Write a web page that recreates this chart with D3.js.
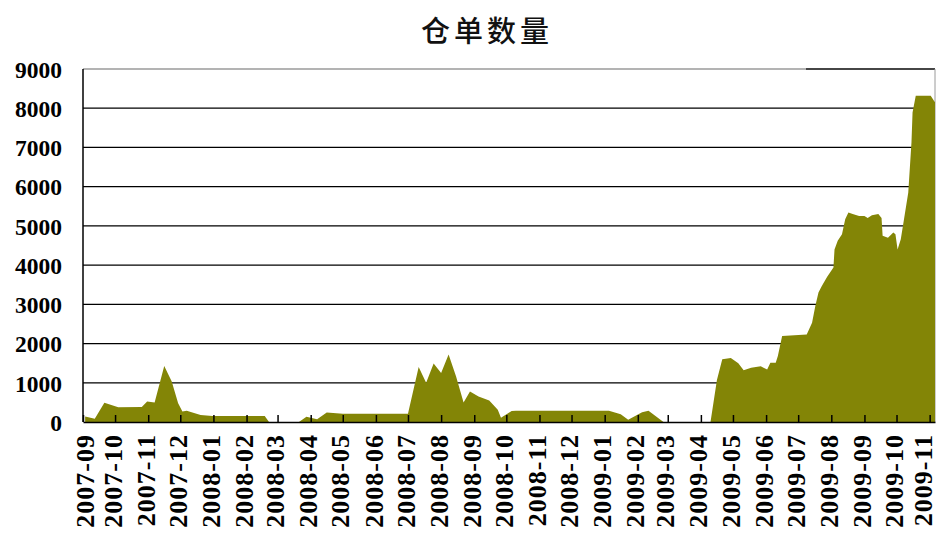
<!DOCTYPE html>
<html>
<head>
<meta charset="utf-8">
<script src="https://cdn.jsdelivr.net/npm/d3@7"></script>
<style>
  html, body { margin: 0; padding: 0; background: #fff; }
  svg { display: block; }
  .title { font-family: "Noto Sans CJK SC", sans-serif; font-weight: 500; }
  .tick text { font-family: "Liberation Serif", "Times New Roman", serif; font-weight: bold; fill: #000; }
</style>
</head>
<body>
<svg id="chart" width="937" height="534"></svg>
<script>
// Warrant (仓单) count, daily, Sep 2007 – Nov 2009
const dates = [
  "2007-09-03","2007-09-12","2007-09-21","2007-10-04","2007-10-26","2007-10-31",
  "2007-11-07","2007-11-16","2007-11-23","2007-11-29","2007-12-03","2007-12-07",
  "2007-12-20","2007-12-31","2008-02-18","2008-02-22","2008-03-21","2008-03-28",
  "2008-04-07","2008-04-16","2008-05-01","2008-07-01","2008-07-11","2008-07-18",
  "2008-07-25","2008-08-01","2008-08-08","2008-08-15","2008-08-22","2008-08-28",
  "2008-09-05","2008-09-15","2008-09-23","2008-09-26","2008-10-06","2008-10-10",
  "2009-01-05","2009-01-16","2009-01-23","2009-02-05","2009-02-11","2009-02-25",
  "2009-04-10","2009-04-16","2009-04-21","2009-04-29","2009-05-06","2009-05-11",
  "2009-05-18","2009-05-27","2009-06-02","2009-06-05","2009-06-10","2009-06-12",
  "2009-06-16","2009-07-09","2009-07-14","2009-07-17","2009-07-20","2009-07-23",
  "2009-07-28","2009-08-03","2009-08-04","2009-08-07","2009-08-11","2009-08-14",
  "2009-08-17","2009-08-21","2009-08-27","2009-09-01","2009-09-04","2009-09-08",
  "2009-09-14","2009-09-17","2009-09-18","2009-09-23","2009-09-28","2009-09-30",
  "2009-10-02","2009-10-05","2009-10-08","2009-10-12","2009-10-15","2009-10-16",
  "2009-10-19","2009-11-02","2009-11-05","2009-11-06"
];
const values = [
  140, 85, 490, 375, 380, 520,
  495, 1425, 1030, 480, 265, 285,
  180, 155, 155, 0, 0, 135,
  70, 240, 210, 210, 1400, 1000,
  1490, 1250, 1720, 1160, 500, 780,
  650, 550, 310, 110, 280, 290,
  290, 200, 60, 250, 285, 0,
  0, 1070, 1600, 1630, 1500, 1320,
  1380, 1420, 1340, 1510, 1510, 1680,
  2190, 2230, 2530, 2950, 3300, 3460,
  3700, 3940, 4400, 4620, 4790, 5170,
  5340, 5300, 5250, 5250, 5200, 5270,
  5300, 5200, 4750, 4700, 4830, 4790,
  4400, 4660, 5170, 5850, 7130, 7890,
  8320, 8320, 8190, 8150
];
const yTicks = [0, 1000, 2000, 3000, 4000, 5000, 6000, 7000, 8000, 9000];
const titleText = "仓单数量";
const axisStart = "2007-09-01";
const axisEnd = "2009-11-06";

const parse = d3.utcParse("%Y-%m-%d");
const series = dates.map((d, i) => ({ date: parse(d), value: values[i] }));

const margin = { left: 83, right: 2, top: 69, bottom: 112 };
const W = 937, H = 534;
const svg = d3.select("#chart");

const x = d3.scaleUtc()
  .domain([parse(axisStart), parse(axisEnd)])
  .range([margin.left, W - margin.right]);
const y = d3.scaleLinear()
  .domain([0, 9000])
  .range([H - margin.bottom, margin.top]);

// title
svg.append("text")
  .attr("class", "title")
  .attr("x", 487)
  .attr("y", 42)
  .attr("text-anchor", "middle")
  .attr("font-size", 29)
  .attr("letter-spacing", 4)
  .attr("fill", "#111")
  .text(titleText);

// horizontal gridlines (behind the area)
svg.append("g")
  .selectAll("line")
  .data(yTicks.filter(v => v > 0 && v < 9000))
  .join("line")
  .attr("x1", x.range()[0]).attr("x2", x.range()[1])
  .attr("y1", d => y(d)).attr("y2", d => y(d))
  .attr("stroke", "#000").attr("stroke-width", 1.3);

// plot frame: top and right edges
svg.append("line")
  .attr("x1", x.range()[0]).attr("x2", x.range()[1])
  .attr("y1", y(9000)).attr("y2", y(9000))
  .attr("stroke", "#9a9a9a").attr("stroke-width", 1.4);
svg.append("line")
  .attr("x1", 806).attr("x2", x.range()[1])
  .attr("y1", y(9000)).attr("y2", y(9000))
  .attr("stroke", "#222").attr("stroke-width", 1.4);
svg.append("line")
  .attr("x1", x.range()[1]).attr("x2", x.range()[1])
  .attr("y1", y(9000)).attr("y2", y(0))
  .attr("stroke", "#9a9a9a").attr("stroke-width", 1);

// area
const area = d3.area()
  .x(d => x(d.date))
  .y0(y(0))
  .y1(d => y(d.value));
svg.append("path")
  .datum(series)
  .attr("d", area)
  .attr("fill", "#838506");

// y axis
const yAxis = svg.append("g")
  .attr("transform", `translate(${margin.left},0)`)
  .call(d3.axisLeft(y).tickValues(yTicks).tickFormat(d3.format("d")).tickSize(0).tickPadding(21));
yAxis.select(".domain").remove();
yAxis.selectAll("text").attr("font-size", 23.5).attr("dy", "0.35em");
svg.append("line")
  .attr("x1", margin.left).attr("x2", margin.left)
  .attr("y1", y(9000)).attr("y2", y(0))
  .attr("stroke", "#000").attr("stroke-width", 1.5);

// x axis: month ticks pointing inward, rotated labels kept inside the frame
const months = d3.utcMonth.range(parse(axisStart), x.domain()[1]);
const xAxis = svg.append("g")
  .attr("transform", `translate(0,${y(0)})`)
  .call(d3.axisBottom(x).tickValues(months).tickFormat(d3.utcFormat("%Y-%m")).tickSize(-7).tickSizeOuter(0));
xAxis.select(".domain").attr("stroke", "#000").attr("stroke-width", 1.5);
xAxis.selectAll(".tick line").attr("stroke", "#000").attr("stroke-width", 1.5);
xAxis.selectAll(".tick text")
  .attr("font-size", 26)
  .attr("letter-spacing", 1)
  .attr("transform", "rotate(-90)")
  .attr("text-anchor", "end")
  .attr("x", -12)
  .attr("y", d => Math.min(Math.max(x(d) - 3, 84), W - 15) - x(d))
  .attr("dy", "0.35em");
</script>
</body>
</html>
